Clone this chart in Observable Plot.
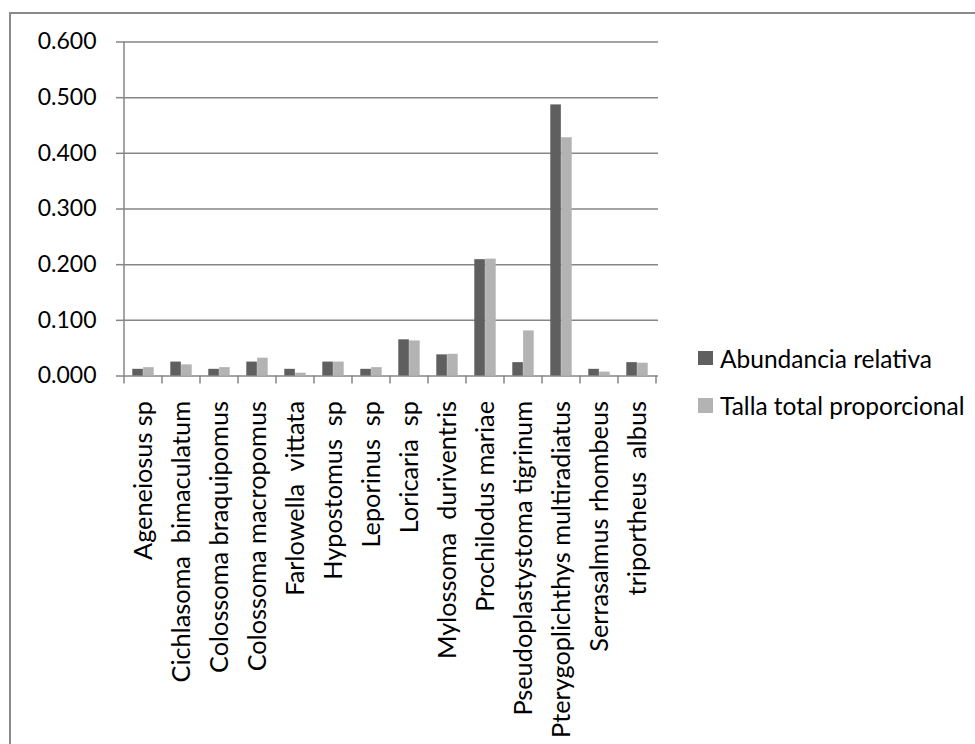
<!DOCTYPE html>
<html>
<head>
<meta charset="utf-8">
<script src="https://cdn.jsdelivr.net/npm/d3@7"></script>
<script src="https://cdn.jsdelivr.net/npm/@observablehq/plot@0.6"></script>
<style>
  body { margin: 0; background: #fff; }
  #wrap { position: relative; width: 975px; height: 744px; overflow: hidden; font-family: Lato, sans-serif; background: #fff; }
  #frame { position: absolute; left: 9px; top: 12px; width: 1000px; height: 800px; border: 2px solid #8a8a8a; box-sizing: border-box; }
  #chart { position: absolute; left: 0; top: 0; }
  svg text { white-space: pre; }
  .leg { position: absolute; left: 698px; display: flex; align-items: center; font-size: 24.5px; color: #000; white-space: nowrap; }
  .leg span.sw { display: inline-block; width: 14.5px; height: 14.5px; margin-right: 7.5px; }
</style>
</head>
<body>
<div id="wrap">
  <div id="frame"></div>
  <div id="chart"></div>
  <div id="legend"></div>
</div>
<script>
const species = [
  "Ageneiosus sp",
  "Cichlasoma  bimaculatum",
  "Colossoma braquipomus",
  "Colossoma macropomus",
  "Farlowella  vittata",
  "Hypostomus  sp",
  "Leporinus  sp",
  "Loricaria  sp",
  "Mylossoma  duriventris",
  "Prochilodus mariae",
  "Pseudoplastystoma tigrinum",
  "Pterygoplichthys multiradiatus",
  "Serrasalmus rhombeus",
  "triportheus  albus"
];
const abundancia = [0.012, 0.025, 0.012, 0.025, 0.012, 0.025, 0.012, 0.065, 0.038, 0.209, 0.024, 0.487, 0.012, 0.024];
const talla      = [0.015, 0.020, 0.015, 0.032, 0.005, 0.025, 0.015, 0.063, 0.039, 0.210, 0.081, 0.428, 0.007, 0.023];
const seriesNames = ["Abundancia relativa", "Talla total proporcional"];
const seriesColors = ["#5f5f5f", "#b3b3b3"];
const yTicks = [0, 0.1, 0.2, 0.3, 0.4, 0.5, 0.6];

const rows = species.map((s, i) => ({species: s, abund: abundancia[i], talla: talla[i]}));

const W = 975, H = 744;
const mL = 122, mR = 317, mT = 41.5, mB = 368.5;
const bw = (W - mL - mR) / species.length;
const gap = 8.3;

const plot = Plot.plot({
  width: W, height: H,
  marginLeft: mL, marginRight: mR, marginTop: mT, marginBottom: mB,
  style: {fontFamily: "Lato, sans-serif", fontSize: "23px", color: "#000", background: "transparent"},
  x: {domain: species, padding: 0, label: null},
  y: {domain: [0, 0.6], label: null},
  marks: [
    Plot.gridY(yTicks, {stroke: "#868686", strokeOpacity: 1, strokeWidth: 1.5}),
    Plot.barY(rows, {x: "species", y: "abund", fill: seriesColors[0], insetLeft: gap, insetRight: bw / 2}),
    Plot.barY(rows, {x: "species", y: "talla", fill: seriesColors[1], insetLeft: bw / 2, insetRight: gap}),
    Plot.axisY(yTicks, {tickSize: 6, tickPadding: 20, tickFormat: d3.format(".3f"), stroke: "#868686", strokeWidth: 1.5}),
    Plot.axisX({tickSize: 0, tickPadding: 25, tickRotate: -90, fontSize: 25.3})
  ]
});

// axis line and category boundary ticks from the plot's own scales
const xs = plot.scale("x"), ys = plot.scale("y");
const g = d3.select(plot).append("g").attr("stroke", "#868686").attr("stroke-width", 1.5);
g.append("line")
  .attr("x1", xs.apply(species[0])).attr("x2", xs.apply(species[0]))
  .attr("y1", ys.apply(0)).attr("y2", ys.apply(0.6));
const bounds = species.map(s => xs.apply(s)).concat([xs.apply(species[species.length - 1]) + xs.bandwidth]);
g.selectAll("line.t").data(bounds).join("line").attr("class", "t")
  .attr("x1", d => d).attr("x2", d => d)
  .attr("y1", ys.apply(0)).attr("y2", ys.apply(0) + 8);

document.getElementById("chart").appendChild(plot);

const legendTops = [351, 398.5];
const leg = document.getElementById("legend");
seriesNames.forEach((name, i) => {
  const d = document.createElement("div");
  d.className = "leg";
  d.style.top = (legendTops[i] - 8) + "px";
  d.style.height = "30px";
  d.innerHTML = `<span class="sw" style="background:${seriesColors[i]}"></span>${name}`;
  leg.appendChild(d);
});
</script>
</body>
</html>
